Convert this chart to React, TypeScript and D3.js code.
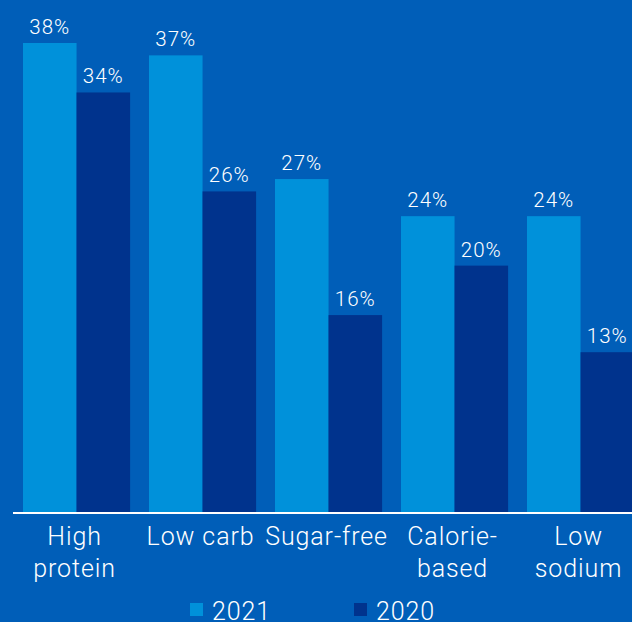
import React from "react";
import * as d3 from "d3";

const categories: string[][] = [["High", "protein"], ["Low carb"], ["Sugar-free"], ["Calorie-", "based"], ["Low", "sodium"]];
const series = ["2021", "2020"];
const values2021 = [38, 37, 27, 24, 24];
const values2020 = [34, 26, 16, 20, 13];

const W = 632, H = 622;
const BG = "#005EB8";
const COLORS = ["#0091DA", "#00338D"];
const FONT = "Roboto, 'Liberation Sans', sans-serif";

export default function App() {
  const idx = categories.map((_, i) => String(i));
  const x0 = d3.scaleBand<string>().domain(idx).range([13.55, 643.55]).paddingInner(0.15).paddingOuter(0.075);
  const x1 = d3.scaleBand<string>().domain(series).range([0, x0.bandwidth()]);
  const baseline = 513;
  const y = d3.scaleLinear().domain([0, 38]).range([baseline, 43]);
  const data = [values2021, values2020];
  return (
    <svg width={W} height={H} style={{ position: "absolute", left: 0, top: 0, display: "block" }}>
      <rect x={0} y={0} width={W} height={H} fill={BG} />
      {categories.map((cat, i) => (
        <g key={i} transform={`translate(${x0(String(i))},0)`}>
          {series.map((s, j) => {
            const v = data[j][i];
            const bx = x1(s)!;
            return (
              <g key={s}>
                <rect x={bx} y={y(v)} width={x1.bandwidth()} height={baseline - y(v)} fill={COLORS[j]} />
                <text x={bx + x1.bandwidth() / 2} y={y(v) - 9} textAnchor="middle" fill="#fff" fontFamily={FONT} fontWeight={300} fontSize={20.5} letterSpacing={1}>
                  {v}%
                </text>
              </g>
            );
          })}
          {cat.map((line, k) => (
            <text key={k} x={x0.bandwidth() / 2 - 2} y={545 + k * 32} textAnchor="middle" fill="#fff" fontFamily={FONT} fontWeight={300} fontSize={25} letterSpacing={0.9}>
              {line}
            </text>
          ))}
        </g>
      ))}
      <line x1={13} x2={W} y1={baseline} y2={baseline} stroke="#fff" strokeWidth={2} />
      {series.map((s, j) => {
        const lx = [190, 354][j];
        return (
          <g key={s}>
            <rect x={lx} y={603} width={13} height={13} fill={COLORS[j]} />
            <text x={lx + 22} y={620} fill="#fff" fontFamily={FONT} fontWeight={300} fontSize={25} letterSpacing={0.9}>{s}</text>
          </g>
        );
      })}
    </svg>
  );
}
